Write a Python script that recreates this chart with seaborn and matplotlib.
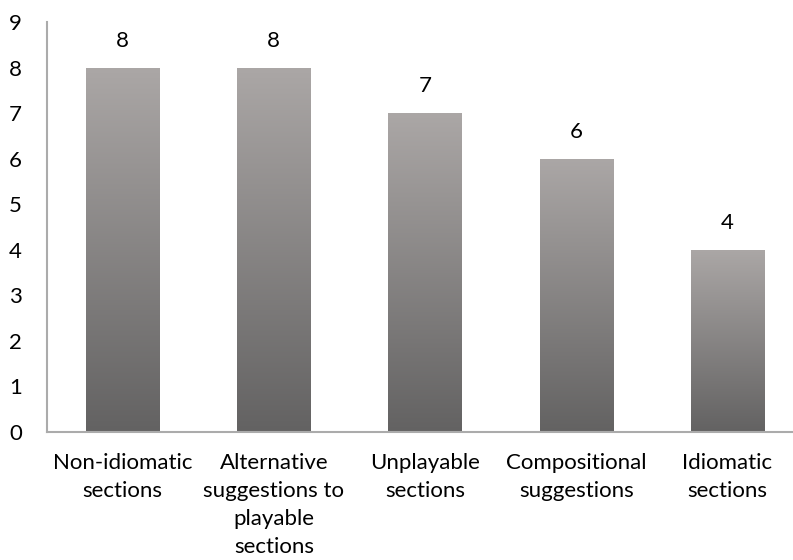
import numpy as np
import pandas as pd
import matplotlib
matplotlib.use("Agg")
import matplotlib.pyplot as plt
import seaborn as sns
from matplotlib.colors import LinearSegmentedColormap

categories = [
    "Non-idiomatic\nsections",
    "Alternative\nsuggestions to\nplayable\nsections",
    "Unplayable\nsections",
    "Compositional\nsuggestions",
    "Idiomatic\nsections",
]
counts = [8, 8, 7, 6, 4]
y_ticks = list(range(0, 10))

sns.set_theme(style="white")
plt.rcParams["font.family"] = ["Lato", "DejaVu Sans"]

df = pd.DataFrame({"category": categories, "count": counts})

fig = plt.figure(figsize=(7.93, 5.6), dpi=100)
ax = fig.add_axes([47 / 793, 128 / 560, 756 / 793, 410 / 560])

sns.barplot(data=df, x="category", y="count", ax=ax, width=0.483,
            color="#888888", saturation=1)

# Vertical grey gradient inside each bar: light at the top, dark at the base
grad_cmap = LinearSegmentedColormap.from_list("bar_grad", ["#636262", "#ABA7A6"])
grad = np.linspace(0, 1, 256).reshape(-1, 1)
for bar in ax.patches:
    x0, y0 = bar.get_x(), bar.get_y()
    w, h = bar.get_width(), bar.get_height()
    bar.set_facecolor("none")
    bar.set_edgecolor("none")
    im = ax.imshow(grad, cmap=grad_cmap, aspect="auto", origin="lower",
                   extent=[x0, x0 + w, y0, y0 + h], zorder=2,
                   interpolation="bilinear")
    im.set_clip_path(bar)
    ax.annotate(f"{int(h)}", (x0 + w / 2, y0 + h), xytext=(0, 12),
                textcoords="offset points", ha="center", va="bottom",
                fontsize=16, color="#000000")

ax.set_xlim(-0.5, 4.5)
ax.set_ylim(0, 9)
ax.set_yticks(y_ticks)
ax.set_xlabel("")
ax.set_ylabel("")
ax.tick_params(axis="both", length=0, labelsize=16, colors="#000000")
ax.tick_params(axis="y", pad=18)
ax.tick_params(axis="x", pad=15)
for lbl in ax.get_xticklabels():
    lbl.set_linespacing(1.5)

for side in ["top", "right"]:
    ax.spines[side].set_visible(False)
for side in ["left", "bottom"]:
    ax.spines[side].set_color("#ABABAB")
    ax.spines[side].set_linewidth(1.5)

fig.savefig("out.png", dpi=100)
